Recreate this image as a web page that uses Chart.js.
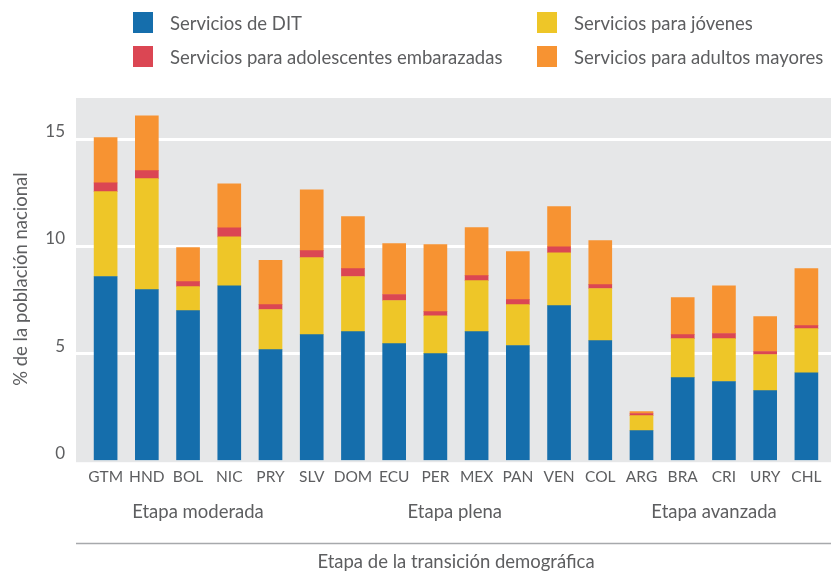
<!DOCTYPE html>
<html>
<head>
<meta charset="utf-8">
<script src="https://cdn.jsdelivr.net/npm/chart.js@4"></script>
<style>
  body { margin: 0; background: #fff; }
  #wrap { position: relative; width: 831px; height: 573px; }
  .leg { position: absolute; font-family: Lato, sans-serif; font-size: 18.5px; color: #5d5e60; display: flex; align-items: center; white-space: nowrap; height: 21px; }
  .leg span.box { width: 20px; height: 21px; margin-right: 17px; display: inline-block; }
</style>
</head>
<body>
<div id="wrap">
  <canvas id="grafico" width="831" height="573"></canvas>
</div>
<script>
const paises = ['GTM', 'HND', 'BOL', 'NIC', 'PRY', 'SLV', 'DOM', 'ECU', 'PER', 'MEX', 'PAN', 'VEN', 'COL', 'ARG', 'BRA', 'CRI', 'URY', 'CHL'];
const dit =        [8.57, 7.96, 6.98, 8.14, 5.16, 5.86, 6.00, 5.44, 4.97, 6.00, 5.35, 7.21, 5.58, 1.38, 3.85, 3.67, 3.25, 4.08];
const jovenes =    [3.96, 5.18, 1.12, 2.28, 1.87, 3.59, 2.57, 2.01, 1.77, 2.38, 1.91, 2.47, 2.43, 0.70, 1.82, 2.00, 1.68, 2.06];
const adolescentes = [0.41, 0.37, 0.23, 0.42, 0.23, 0.33, 0.37, 0.28, 0.19, 0.23, 0.23, 0.28, 0.18, 0.10, 0.19, 0.24, 0.14, 0.14];
const adultos =    [2.11, 2.56, 1.59, 2.05, 2.06, 2.84, 2.43, 2.38, 3.13, 2.24, 2.24, 1.87, 2.06, 0.09, 1.73, 2.23, 1.63, 2.66];
const yTicks = [0, 5, 10, 15];
const etapas = ['Etapa moderada', 'Etapa plena', 'Etapa avanzada'];
const etapaPos = [2.24, 8.47, 14.76];

const gris = '#5d5e60';
const fuente = 'Lato, sans-serif';

// fondo gris, lineas blancas y etiquetas de etapas
const fondo = {
  id: 'fondo',
  beforeDraw(chart) {
    const c = chart.ctx, y = chart.scales.y;
    const left = 76, right = 831;
    c.save();
    c.fillStyle = '#e6e7e8';
    c.fillRect(left, chart.chartArea.top, right - left, y.getPixelForValue(0) + 2 - chart.chartArea.top);
    c.strokeStyle = '#ffffff';
    c.lineWidth = 3;
    yTicks.slice(1).forEach(v => {
      const py = Math.round(y.getPixelForValue(v)) + 0.5;
      c.beginPath(); c.moveTo(left, py); c.lineTo(right, py); c.stroke();
    });
    c.restore();
  },
  afterDraw(chart) {
    const c = chart.ctx, x = chart.scales.x;
    c.save();
    c.fillStyle = gris;
    c.font = '18.5px ' + fuente;
    c.textAlign = 'center';
    c.textBaseline = 'middle';
    etapas.forEach((t, i) => {
      const a = Math.floor(etapaPos[i]), f = etapaPos[i] - a;
      const px = x.getPixelForValue(a) + f * (x.getPixelForValue(a + 1) - x.getPixelForValue(a));
      c.fillText(t, px, 512);
    });
    c.strokeStyle = '#a7a9ac';
    c.lineWidth = 1.5;
    c.beginPath(); c.moveTo(76, 543.5); c.lineTo(831, 543.5); c.stroke();
    c.restore();
  }
};

const chart = new Chart(document.getElementById('grafico'), {
  type: 'bar',
  data: {
    labels: paises,
    datasets: [
      { label: 'Servicios de DIT', data: dit, backgroundColor: '#156eac' },
      { label: 'Servicios para jóvenes', data: jovenes, backgroundColor: '#eec628' },
      { label: 'Servicios para adolescentes embarazadas', data: adolescentes, backgroundColor: '#db4653' },
      { label: 'Servicios para adultos mayores', data: adultos, backgroundColor: '#f79332' }
    ]
  },
  options: {
    responsive: false,
    animation: false,
    layout: { padding: { top: 98, right: 4, bottom: 0, left: 0 } },
    datasets: { bar: { barThickness: 23 } },
    plugins: { legend: { display: false }, tooltip: { enabled: false } },
    scales: {
      x: {
        stacked: true,
        grid: { display: false, drawTicks: false },
        border: { display: false },
        ticks: { color: gris, font: { family: fuente, size: 15.5 }, padding: 7, maxRotation: 0, autoSkip: false },
        title: { display: true, text: 'Etapa de la transición demográfica', color: gris, font: { family: fuente, size: 18.5 }, padding: { top: 58, bottom: 0 } }
      },
      y: {
        stacked: true,
        min: 0,
        max: 16.9,
        grid: { display: false, drawTicks: false },
        border: { display: false },
        afterFit(s) { s.width = 85; },
        afterBuildTicks(s) { s.ticks = yTicks.map(v => ({ value: v })); },
        ticks: { color: gris, font: { family: fuente, size: 17 }, padding: 20, labelOffset: -7 },
        title: { display: true, text: '% de la población nacional', color: gris, font: { family: fuente, size: 18.5 }, padding: { top: 10, bottom: 0 } }
      }
    }
  },
  plugins: [fondo]
});

// leyenda en dos columnas
const posLeyenda = [[133, 12], [537, 12], [133, 46], [537, 46]];
chart.data.datasets.forEach((ds, i) => {
  const d = document.createElement('div');
  d.className = 'leg';
  d.style.left = posLeyenda[i][0] + 'px';
  d.style.top = posLeyenda[i][1] + 'px';
  d.innerHTML = '<span class="box" style="background:' + ds.backgroundColor + '"></span>' + ds.label;
  document.getElementById('wrap').appendChild(d);
});
</script>
</body>
</html>
